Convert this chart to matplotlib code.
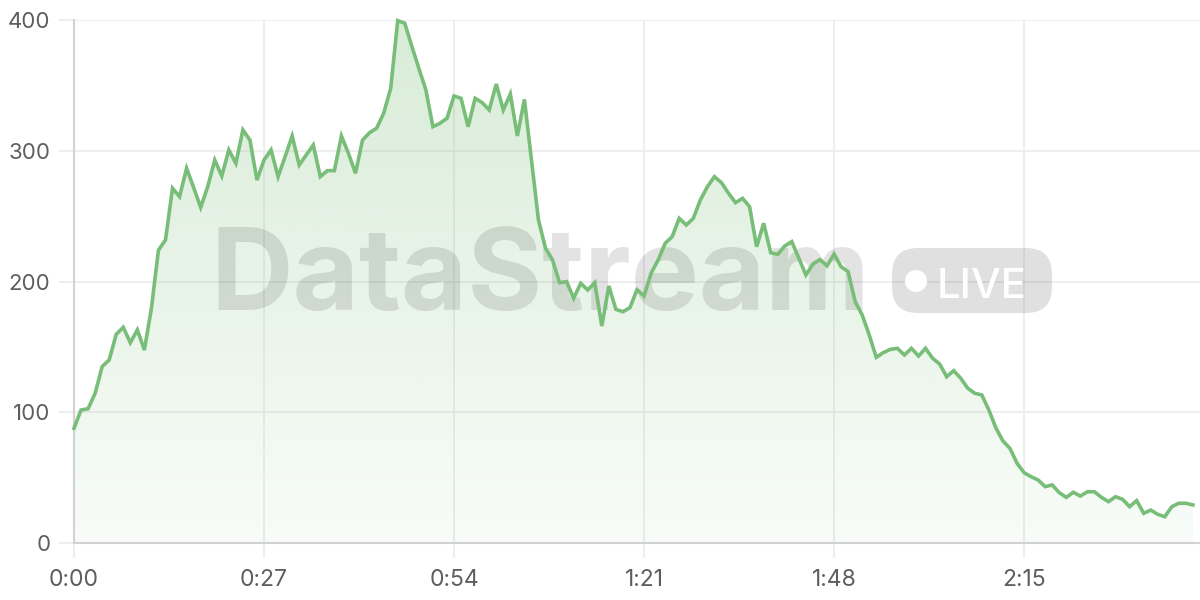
import numpy as np
import matplotlib
matplotlib.use("Agg")
import matplotlib.pyplot as plt
from matplotlib.patches import FancyBboxPatch, Circle
from matplotlib.transforms import IdentityTransform

# ---- data ----
values = [
    87.7, 101.7, 102.7, 114.5, 134.9, 140.0, 159.6, 165.0, 153.2, 163.0,
    147.6, 179.5, 224.0, 231.7, 271.3, 264.9, 286.6, 271.9, 256.7, 272.5,
    292.9, 280.7, 300.6, 290.4, 315.9, 308.2, 277.6, 292.9, 300.6, 280.2,
    295.5, 311.3, 289.1, 296.7, 304.4, 280.2, 284.8, 284.8, 311.3, 298.0,
    282.8, 308.2, 313.8, 317.2, 328.6, 347.7, 399.5, 397.5, 380.0, 363.0,
    346.5, 318.4, 321.0, 324.8, 341.9, 340.1, 318.4, 340.1, 336.8, 331.2,
    351.0, 331.2, 343.4, 311.3, 339.3, 292.9, 247.0, 225.4, 216.4, 199.1,
    199.9, 187.2, 198.6, 193.5, 199.1, 166.0, 196.6, 178.7, 176.9, 180.0,
    193.7, 188.9, 206.3, 216.4, 229.2, 234.3, 248.3, 243.2, 248.3, 262.3,
    272.5, 280.2, 275.6, 267.5, 260.3, 263.6, 257.2, 226.6, 244.5, 222.0,
    220.8, 227.2, 230.5, 217.8, 205.0, 213.4, 216.8, 212.0, 221.0, 211.3,
    207.5, 184.6, 174.4, 159.1, 142.0, 145.6, 148.1, 148.9, 143.8, 148.9,
    143.0, 148.9, 141.3, 136.9, 127.2, 131.8, 126.0, 118.3, 114.5, 113.2,
    101.7, 88.0, 78.0, 72.3, 61.0, 53.8, 50.7, 48.2, 43.1, 44.4,
    38.5, 34.9, 38.8, 35.9, 39.2, 39.2, 34.9, 31.6, 35.4, 33.4,
    27.8, 32.4, 22.7, 25.2, 21.9, 20.1, 27.8, 30.4, 30.4, 29.1,
]
seconds = list(range(len(values)))
x_tick_pos = [0, 27, 54, 81, 108, 135]
x_tick_labels = ["0:00", "0:27", "0:54", "1:21", "1:48", "2:15"]
y_ticks = [0, 100, 200, 300, 400]

line_color = "#78bd78"
grid_color = "#ebebeb"
axis_color = "#d2d2d2"
label_color = "#5e5e5e"

fig = plt.figure(figsize=(12, 6), dpi=100)
ax = fig.add_axes([74 / 1200, 57 / 600, 1126 / 1200, 523 / 600])
ax.set_xlim(0, 160)
ax.set_ylim(0, 400)

x = np.array(seconds, dtype=float)
y = np.array(values, dtype=float)

# gradient fill
poly = ax.fill_between(x, y, 0, color="none", lw=0)
rgb = matplotlib.colors.to_rgb(line_color)
n = 256
alphas = np.linspace(0.05, 0.29, n)[:, None]
img = np.zeros((n, 2, 4))
img[..., 0] = rgb[0]
img[..., 1] = rgb[1]
img[..., 2] = rgb[2]
img[..., 3] = alphas
im = ax.imshow(img, extent=[0, 160, 0, 400], origin="lower", aspect="auto", zorder=1)
path = poly.get_paths()[0]
im.set_clip_path(path, transform=ax.transData)

ax.plot(x, y, color=line_color, lw=2.6, zorder=4, solid_joinstyle="miter", clip_on=False)

# axes styling
for s in ["top", "right"]:
    ax.spines[s].set_visible(False)
for s in ["left", "bottom"]:
    ax.spines[s].set_color(axis_color)
    ax.spines[s].set_linewidth(1.5)
ax.set_xticks(x_tick_pos)
ax.set_xticklabels(x_tick_labels)
ax.set_yticks(y_ticks)
ax.grid(True, color=grid_color, lw=1.2, zorder=0)
ax.set_axisbelow(True)
ax.tick_params(axis="both", length=11, width=1.2, color=grid_color, labelcolor=label_color)
ax.tick_params(axis="y", pad=6, labelsize=16)
ax.tick_params(axis="x", pad=8, labelsize=16.5)
for lab in ax.get_xticklabels() + ax.get_yticklabels():
    lab.set_fontfamily(["Inter", "DejaVu Sans"])

# watermark (under the line)
fig.canvas.draw()
r = fig.canvas.get_renderer()
wm = ax.text(210 / 1200, 1 - 310 / 600, "DataStream", fontsize=100, fontweight="bold",
             family=["Inter", "DejaVu Sans"], color="black", alpha=0.11,
             ha="left", va="baseline", zorder=2, transform=fig.transFigure, clip_on=False)
w = wm.get_window_extent(r).width
wm.set_fontsize(100 * 660 / w)

badge = FancyBboxPatch((892 + 26, 600 - 313 + 26), 160 - 52, 65 - 52,
                       boxstyle="round,pad=26", transform=IdentityTransform(),
                       facecolor="black", alpha=0.12, edgecolor="none", zorder=2, clip_on=False)
ax.add_artist(badge)
ax.add_artist(Circle((916, 600 - 281), 11, transform=IdentityTransform(),
                     facecolor="white", edgecolor="none", zorder=2.5, clip_on=False))
lt = ax.text(937 / 1200, 1 - 298 / 600, "LIVE", fontsize=30, fontweight="medium",
             family=["Inter", "DejaVu Sans"], color="white", ha="left", va="baseline",
             zorder=2.5, transform=fig.transFigure, clip_on=False)
w2 = lt.get_window_extent(r).width
lt.set_fontsize(30 * 90 / w2)

fig.savefig("out.png", dpi=100)
